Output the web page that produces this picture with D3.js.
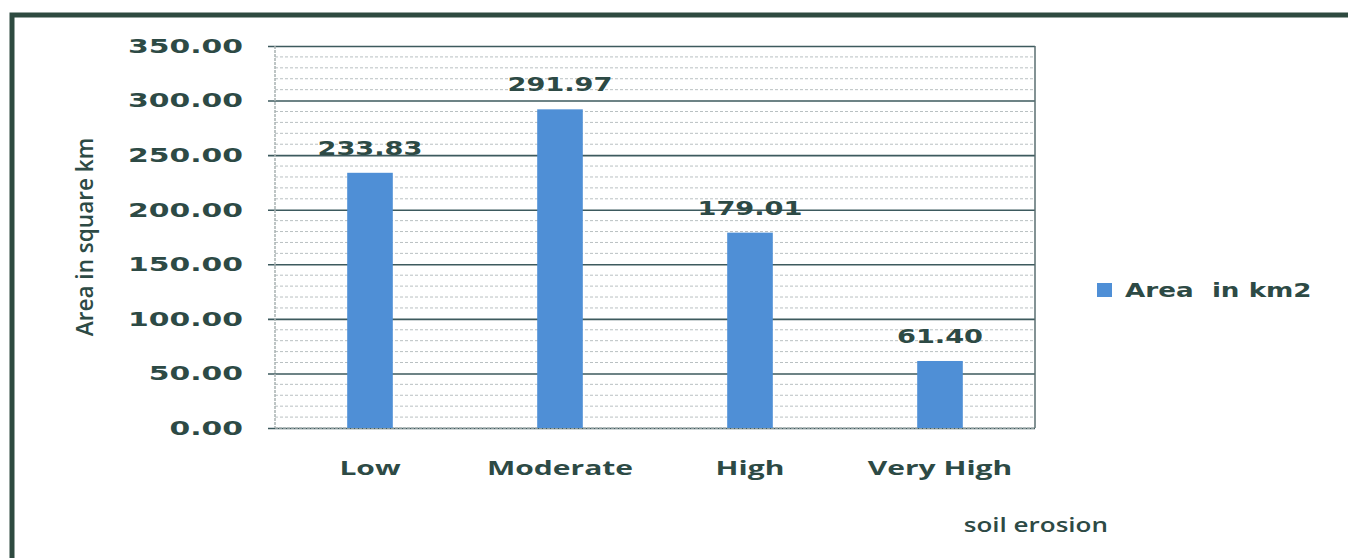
<!DOCTYPE html>
<html>
<head>
<meta charset="utf-8">
<script src="https://cdn.jsdelivr.net/npm/d3@7"></script>
<style>
  body { margin: 0; background: #fff; }
  svg { display: block; }
</style>
</head>
<body>
<div id="chart"></div>
<script>
// data
var categories = ["Low", "Moderate", "High", "Very High"];
var areaValues = [233.83, 291.97, 179.01, 61.40];
var yTicks = [0, 50, 100, 150, 200, 250, 300, 350];
var seriesName = "Area  in km2";

var W = 1348, H = 558;
var margin = {top: 46, left: 275, right: 313, bottom: 130}; // plot box 275..1035, 46..428
var width = W - margin.left - margin.right,
    height = H - margin.top - margin.bottom;

var ink = "#2d4a45";
var barColor = "#4f8fd6";

// the scanned figure is stretched sideways, so widen the glyphs to match
function stretch(sel, factor) {
  sel.each(function() {
    var len = this.getComputedTextLength();
    d3.select(this)
      .attr("textLength", len * factor)
      .attr("lengthAdjust", "spacingAndGlyphs");
  });
}

var svg = d3.select("#chart").append("svg")
    .attr("width", W)
    .attr("height", H);

// dark frame of the scanned figure
svg.append("path")
    .attr("d", "M12,560 L12,15 L1350,15")
    .attr("fill", "none")
    .attr("stroke", "#2e4a40")
    .attr("stroke-width", 5);

var g = svg.append("g")
    .attr("transform", "translate(" + margin.left + "," + margin.top + ")");

var x = d3.scaleBand()
    .domain(categories)
    .range([0, width])
    .paddingInner(0.76)
    .paddingOuter(0.38);

var y = d3.scaleLinear()
    .domain([0, 350])
    .range([height, 0]);

// minor gridlines every 10
var minor = d3.range(10, 350, 10).filter(function(v) { return v % 50 !== 0; });
g.append("g").selectAll("line")
    .data(minor)
    .enter().append("line")
      .attr("x1", 0).attr("x2", width)
      .attr("y1", function(d) { return y(d); })
      .attr("y2", function(d) { return y(d); })
      .attr("stroke", "#b9c0c2")
      .attr("stroke-width", 1)
      .attr("stroke-dasharray", "3,2");

// major gridlines + y axis
var yAxis = g.append("g")
    .call(d3.axisLeft(y).tickValues(yTicks).tickSize(-width).tickFormat(d3.format(".2f")).tickPadding(32));
yAxis.select(".domain").remove();
yAxis.selectAll(".tick line")
    .attr("stroke", "#3d5a5e")
    .attr("stroke-width", 1.6)
    .attr("x1", -7);
yAxis.selectAll(".tick text")
    .attr("fill", ink)
    .style("font-family", "'DejaVu Sans', Verdana, sans-serif")
    .style("font-weight", "bold")
    .style("font-size", "20px")
    .call(stretch, 1.49);

// plot sides
g.append("line")
    .attr("x1", 0).attr("x2", 0).attr("y1", 0).attr("y2", height)
    .attr("stroke", "#a9b2b3").attr("stroke-width", 1.5).attr("stroke-dasharray", "3,1");
g.append("line")
    .attr("x1", width).attr("x2", width).attr("y1", 0).attr("y2", height)
    .attr("stroke", "#5a6e70").attr("stroke-width", 1.5);
g.append("line")
    .attr("x1", 0).attr("x2", width).attr("y1", height).attr("y2", height)
    .attr("stroke", "#a9b2b3").attr("stroke-width", 1.5).attr("stroke-dasharray", "3,1");

// bars
g.append("g").selectAll("rect")
    .data(areaValues)
    .enter().append("rect")
      .attr("x", function(d, i) { return x(categories[i]); })
      .attr("y", function(d) { return y(d); })
      .attr("width", x.bandwidth())
      .attr("height", function(d) { return height - y(d); })
      .attr("fill", barColor);

// value labels
g.append("g").selectAll("text")
    .data(areaValues)
    .enter().append("text")
      .attr("x", function(d, i) { return x(categories[i]) + x.bandwidth() / 2; })
      .attr("y", function(d) { return y(d) - 18; })
      .attr("text-anchor", "middle")
      .attr("fill", ink)
      .style("font-family", "'DejaVu Sans', Verdana, sans-serif")
      .style("font-weight", "bold")
      .style("font-size", "20px")
      .text(function(d) { return d.toFixed(2); })
      .call(stretch, 1.36);

// category labels
g.append("g").selectAll("text")
    .data(categories)
    .enter().append("text")
      .attr("x", function(d) { return x(d) + x.bandwidth() / 2; })
      .attr("y", height + 47)
      .attr("text-anchor", "middle")
      .attr("fill", ink)
      .style("font-family", "'Open Sans', sans-serif")
      .style("font-weight", "bold")
      .style("font-size", "20px")
      .text(function(d) { return d; })
      .call(stretch, 1.5);

// y axis title
svg.append("text")
    .attr("transform", "translate(93,237) rotate(-90)")
    .attr("text-anchor", "middle")
    .attr("fill", ink)
    .style("font-family", "'Open Sans', sans-serif")
    .style("font-weight", "600")
    .style("font-size", "23px")
    .text("Area in square km")
    .call(stretch, 0.98);

// x axis title
svg.append("text")
    .attr("x", 1108)
    .attr("y", 532)
    .attr("text-anchor", "end")
    .attr("fill", ink)
    .style("font-family", "'Open Sans', sans-serif")
    .style("font-weight", "600")
    .style("font-size", "20px")
    .text("soil erosion")
    .call(stretch, 1.3);

// legend
var legend = svg.append("g").attr("transform", "translate(1097,283)");
legend.append("rect")
    .attr("width", 15).attr("height", 14)
    .attr("fill", barColor);
legend.append("text")
    .attr("x", 28).attr("y", 14)
    .attr("fill", ink)
    .style("font-family", "'DejaVu Sans', Verdana, sans-serif")
    .style("font-weight", "bold")
    .style("font-size", "20px")
    .style("white-space", "pre")
    .text(seriesName)
    .call(stretch, 1.31);
</script>
</body>
</html>
